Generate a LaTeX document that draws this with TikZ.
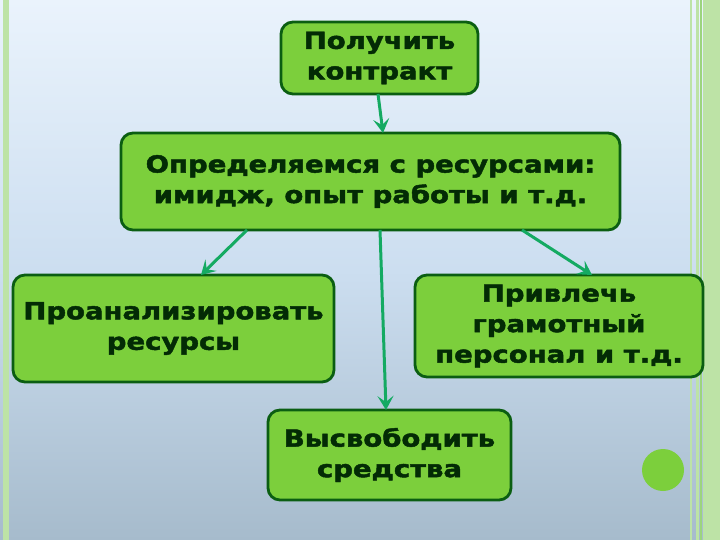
\documentclass[tikz,border=0pt]{standalone}
\usepackage{fontspec}
\newfontfamily\heavyfont{DejaVu Sans Bold}[FakeStretch=1.17, FakeBold=2]
\usetikzlibrary{arrows.meta}
\definecolor{boxfill}{HTML}{7CCF3C}
\definecolor{boxline}{HTML}{0B5E12}
\definecolor{boxtext}{HTML}{032B05}
\definecolor{arrowc}{HTML}{14AA62}
\definecolor{bgtop}{HTML}{EAF3FC}
\definecolor{bgmid}{HTML}{CCDEF0}
\definecolor{bgbot}{HTML}{A6BBCC}
\definecolor{stripe}{HTML}{BDE3A6}
\definecolor{stripedark}{HTML}{9CD47E}
\definecolor{dotc}{HTML}{7CCF3C}
\tikzset{
  box/.style={draw=boxline, line width=2.8pt, fill=boxfill, rounded corners=12pt,
    inner sep=0pt, align=center, text=boxtext,
    font=\heavyfont\fontsize{23.5}{30.5}\selectfont},
  conn/.style={draw=arrowc, line width=3pt, -{Stealth[length=14pt,width=16pt,inset=6pt]}}
}
\begin{document}
\begin{tikzpicture}[x=1pt,y=-1pt]
  \shade[top color=bgtop, bottom color=bgbot, middle color=bgmid] (0,0) rectangle (720,540);
  \useasboundingbox (0,0) rectangle (720,540);
  % left stripe
  \fill[stripe] (3,0) rectangle (9,540);
  % right stripes
  \fill[stripe] (690,0) rectangle (692,540);
  \fill[stripe] (696,0) rectangle (699,540);
  \fill[stripedark] (700,0) rectangle (702,540);
  \fill[stripe] (703,0) rectangle (720,540);
  % dot
  \fill[dotc] (663,470) circle (21);
  % boxes
  \node[box, minimum width=197pt, minimum height=72pt] (a) at (379.5,58) {Получить\\контракт};
  \node[box, minimum width=499pt, minimum height=97pt] (b) at (370.5,181.5) {Определяемся с ресурсами:\\имидж, опыт работы и т.д.};
  \node[box, minimum width=321pt, minimum height=107pt] (c) at (173.5,328.5) {Проанализировать\\ресурсы};
  \node[box, minimum width=288pt, minimum height=102pt] (d) at (559,326) {Привлечь\\грамотный\\персонал и т.д.};
  \node[box, minimum width=243pt, minimum height=90pt] (e) at (389.5,455) {Высвободить\\средства};
  % connectors
  \coordinate (a1) at (378,94);
  \coordinate (b1) at (383,133);
  \coordinate (b2) at (247,230);
  \coordinate (c1) at (201,275);
  \coordinate (b3) at (380,230);
  \coordinate (e1) at (386,410);
  \coordinate (b4) at (522,230);
  \coordinate (d1) at (592,275);
  \draw[conn] (a1) -- (b1);
  \draw[conn] (b2) -- (c1);
  \draw[conn] (b3) -- (e1);
  \draw[conn] (b4) -- (d1);
\end{tikzpicture}
\end{document}
